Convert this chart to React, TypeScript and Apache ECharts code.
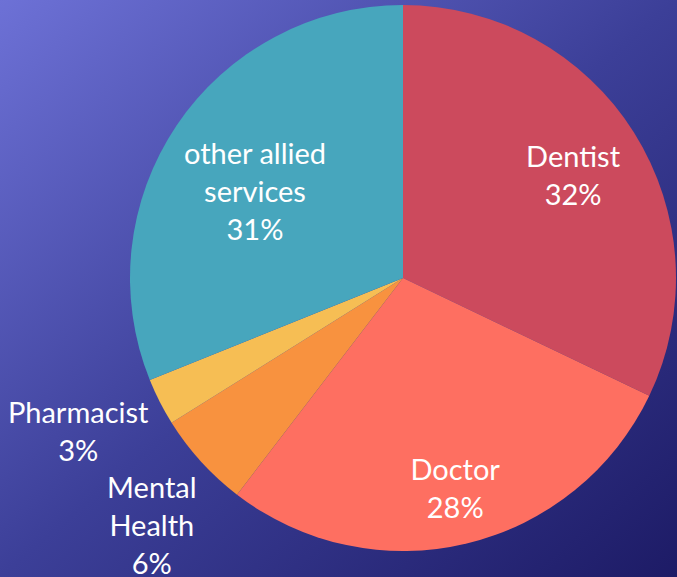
import React, { useEffect, useRef } from "react";
import * as echarts from "echarts";

const categories = ["Dentist", "Doctor", "Mental\nHealth", "Pharmacist", "other allied\nservices"];
const values = [32.1, 28.3, 5.7, 2.8, 31.1];
const colors = ["#cc4a5d", "#fe6f61", "#f8923f", "#f6be54", "#47a6bd"];

// label radial placement factor (fraction of radius), layout only
const labelRadiusFactor = [0.73, 0.79, 1.29, 1.315, 0.63];
const labelAngleShift = [0.8, -0.5, -2.2, 1.8, -3.4]; // degrees

const CX = 403;
const CY = 278;
const R = 273;

export default function App() {
  const ref = useRef<HTMLDivElement>(null);
  useEffect(() => {
    document.body.style.margin = "0";
    const chart = echarts.init(ref.current!, null, { renderer: "svg" });
    const total = values.reduce((a, b) => a + b, 0);
    const cum: number[] = [];
    let acc = 0;
    values.forEach((v) => {
      cum.push(acc);
      acc += v;
    });
    chart.setOption({
      animation: false,
      backgroundColor: new echarts.graphic.LinearGradient(0, 0, 1, 1, [
        { offset: 0, color: "#6d71d6" },
        { offset: 0.5, color: "#3c3f98" },
        { offset: 1, color: "#1d1b66" },
      ]),
      series: [
        {
          type: "pie",
          center: [CX, CY],
          radius: [0, R],
          startAngle: 90,
          clockwise: true,
          silent: true,
          itemStyle: { borderWidth: 0 },
          label: {
            show: true,
            position: "inside",
            color: "#ffffff",
            fontFamily: "Lato",
            fontSize: 29,
            lineHeight: 38,
            align: "center",
            verticalAlign: "middle",
            formatter: (p: any) => `${p.name}\n${Math.round(p.percent)}%`,
          },
          labelLine: { show: false },
          labelLayout: (p: any) => {
            const i = p.dataIndex;
            const mid =
              ((cum[i] + values[i] / 2) / total) * 2 * Math.PI +
              (labelAngleShift[i] * Math.PI) / 180;
            const k = labelRadiusFactor[i] * R;
            return {
              x: CX + k * Math.sin(mid),
              y: CY - k * Math.cos(mid),
              align: "center",
              verticalAlign: "middle",
            };
          },
          data: categories.map((name, i) => ({
            name,
            value: values[i],
            itemStyle: { color: colors[i] },
          })),
        },
      ],
    });
    return () => chart.dispose();
  }, []);
  return (
    <div
      ref={ref}
      style={{ position: "fixed", left: 0, top: 0, width: 677, height: 577 }}
    />
  );
}
